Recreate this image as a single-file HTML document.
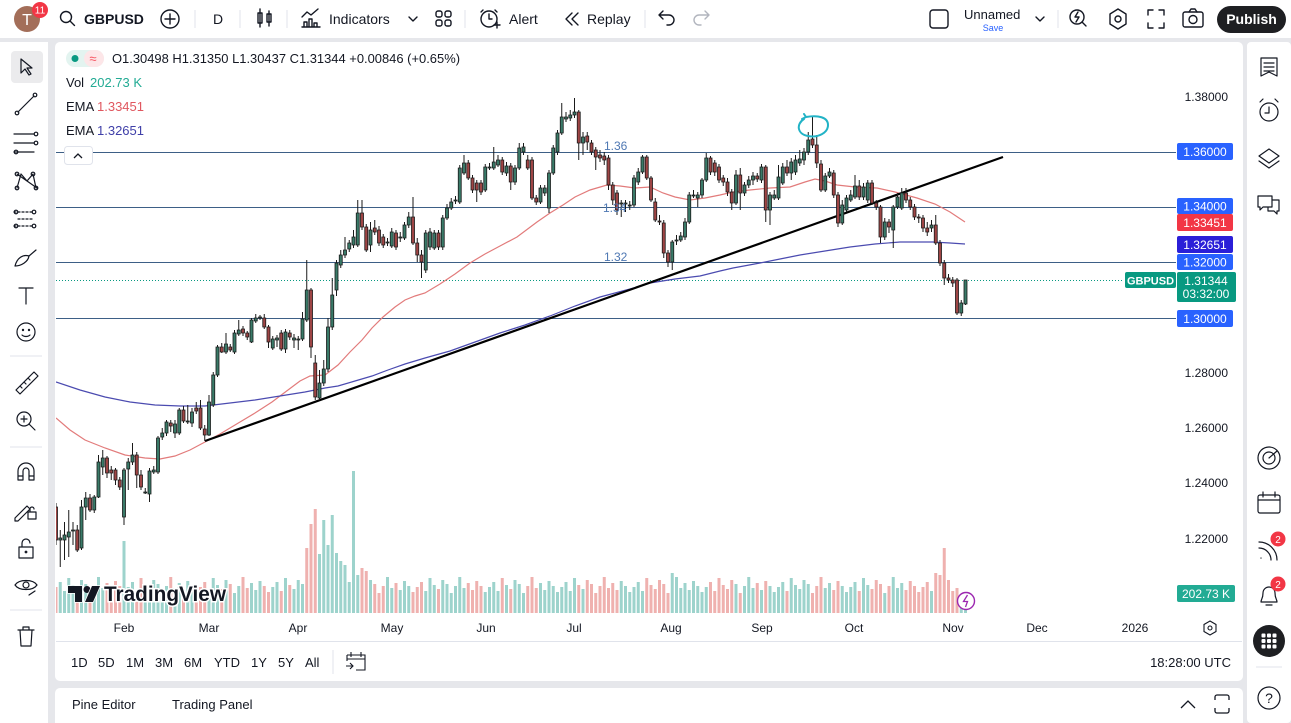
<!DOCTYPE html>
<html><head><meta charset="utf-8"><style>
html,body{margin:0;padding:0;width:1291px;height:723px;overflow:hidden;background:#e6e7eb}
svg{display:block}
</style></head><body>
<svg xmlns="http://www.w3.org/2000/svg" width="1291" height="723" viewBox="0 0 1291 723" font-family="'Liberation Sans', Arial, sans-serif">
<defs><clipPath id="cp"><rect x="56" y="42" width="1120" height="572"/></clipPath></defs>
<rect width="1291" height="723" fill="#e6e7eb"/>
<rect x="0" y="0" width="1291" height="38" fill="#fff"/>
<rect x="0" y="42" width="48" height="681" fill="#fff"/>
<rect x="55" y="42" width="1188" height="639" rx="5" fill="#fff"/>
<rect x="55" y="688" width="1188" height="45" rx="5" fill="#fff"/>
<rect x="1247" y="42" width="44" height="681" rx="4" fill="#fff"/>

<!-- TOP BAR -->
<g fill="none" stroke="#131722" stroke-width="1.4" stroke-linecap="round" stroke-linejoin="round">
<circle cx="66" cy="17" r="5.5"/><path d="M70 21l4.5 4.5"/>
<circle cx="170" cy="19" r="9"/><path d="M170 14v10M165 19h10"/>
<path d="M260 9v18M258 13h4v10h-4zM269 11v15M267 14h4v8h-4z"/>
<path d="M302 27h18M304 27v-5h3v5M309 27v-8h3v8M314 27v-4h3v4M302 17l5-5 4 3 7-6"/>
<path d="M409 17l4 4 4-4"/>
<rect x="436" y="11" width="6" height="6" rx="2"/><rect x="445" y="11" width="6" height="6" rx="2"/><rect x="436" y="20" width="6" height="6" rx="2"/><rect x="445" y="20" width="6" height="6" rx="2"/>
<circle cx="489" cy="19" r="8"/><path d="M489 14v5h3M483 10l-2 2M495 10l2 2M494 25h6M497 22v6"/>
<path d="M572 13l-6 6 6 6M578 13l-6 6 6 6"/>
<path d="M659 15h10a5 5 0 0 1 0 10h-2M663 11l-4 4 4 4"/>
<path d="M709 15h-10a5 5 0 0 0 0 10h2M705 11l4 4-4 4" stroke="#b2b5be"/>
<rect x="930" y="10" width="18" height="18" rx="3"/>
<path d="M1036 17l4 4 4-4"/>
<circle cx="1077" cy="17" r="7"/><path d="M1082 22l4 4M1078 12l-3 5h4l-3 5"/>
<path d="M1118 9l8 5v10l-8 5-8-5V14z"/><circle cx="1118" cy="19" r="3"/>
<path d="M1148 15v-5h5M1159 10h5v5M1164 23v5h-5M1153 28h-5v-5"/>
<rect x="1183" y="12" width="20" height="15" rx="2"/><circle cx="1193" cy="19.5" r="4"/><path d="M1189 12l2-3h4l2 3"/>
</g>
<g stroke="#e0e3eb" stroke-width="1"><path d="M195 10v18M240 10v18M287 10v18M465 10v18M645 10v18M1058 10v18"/></g>
<circle cx="27" cy="19" r="13" fill="#a36e59"/>
<text x="27" y="25" fill="#fff" font-size="16" text-anchor="middle">T</text>
<circle cx="40" cy="10" r="8" fill="#f23645"/>
<text x="40" y="13.5" fill="#fff" font-size="10" text-anchor="middle">11</text>
<text x="84" y="24" fill="#131722" font-size="14" font-weight="bold">GBPUSD</text>
<text x="218" y="24" fill="#131722" font-size="14" text-anchor="middle">D</text>
<text x="329" y="24" fill="#131722" font-size="14">Indicators</text>
<text x="509" y="24" fill="#131722" font-size="14">Alert</text>
<text x="587" y="24" fill="#131722" font-size="14">Replay</text>
<text x="964" y="19" fill="#131722" font-size="13">Unnamed</text>
<text x="993" y="31" fill="#2962ff" font-size="9" text-anchor="middle">Save</text>
<rect x="1217" y="6" width="69" height="27" rx="13.5" fill="#1e1f22"/>
<text x="1251.5" y="24" fill="#fff" font-size="14" font-weight="bold" text-anchor="middle">Publish</text>

<!-- LEFT TOOLBAR -->
<rect x="11" y="51" width="32" height="32" rx="4" fill="#ebebed"/>
<g fill="none" stroke="#131722" stroke-width="1.2" stroke-linecap="round" stroke-linejoin="round">
<path d="M21 59l0 14 4-4 4 6 2-1-4-6h5z"/>
<path d="M18 112l16-16"/><circle cx="17" cy="113" r="1.8"/><circle cx="35" cy="95" r="1.8"/>
<path d="M14 134h20M14 143h20M14 152h20"/><circle cx="36" cy="134" r="1.8"/><circle cx="36" cy="143" r="1.8"/><circle cx="16" cy="152" r="1.8"/>
<path d="M17 188l4-14 6 7 6-7 3 14M17 174l20 14"/><circle cx="17" cy="174" r="1.8"/><circle cx="33" cy="174" r="1.8"/><circle cx="17" cy="188" r="1.8"/><circle cx="36" cy="188" r="1.8"/>
<path d="M14 212h20M14 226h20M18 219h14" stroke-dasharray="2 2"/><circle cx="16" cy="212" r="1.8"/><circle cx="34" cy="212" r="1.8"/><circle cx="16" cy="226" r="1.8"/><circle cx="34" cy="226" r="1.8"/>
<path d="M15 266c2-8 8-12 14-10-1 6-8 10-14 10zM29 256l7-6"/>
<path d="M19 288h14M26 288v16"/>
<circle cx="26" cy="332" r="9"/><circle cx="23" cy="330" r=".6"/><circle cx="29" cy="330" r=".6"/><path d="M22 335c2 2 6 2 8 0"/>
<path d="M16 390l18-18 4 4-18 18zM20 386l2 2M24 382l2 2M28 378l2 2"/>
<circle cx="24" cy="419" r="7"/><path d="M29 424l6 6M24 416v6M21 419h6"/>
<path d="M18 480v-9a8 8 0 0 1 16 0v9h-5v-9a3 3 0 0 0-6 0v9zM18 476h5M29 476h5"/>
<path d="M15 518l12-12 3 3-12 12h-3zM28 512h8v7h-8zM30 512v-3a2 2 0 0 1 4 0"/>
<path d="M19 547h14v11H19zM22 547v-4a4 4 0 0 1 8 0"/><circle cx="26" cy="552" r=".8"/>
<path d="M15 585c4-6 18-6 22 0-4 6-18 6-22 0z"/><circle cx="26" cy="585" r="3"/><path d="M29 595l6-4"/>
<path d="M18 630h16M23 630v-3h6v3M20 630l1 16h10l1-16"/>
</g>
<g stroke="#e0e3eb"><path d="M10 356h32M10 447h32M10 610h32"/></g>

<!-- RIGHT TOOLBAR -->
<g fill="none" stroke="#131722" stroke-width="1.2" stroke-linecap="round" stroke-linejoin="round">
<path d="M1261 58h16v18l-8-4-8 4zM1264 63h10M1264 67h10M1264 71h10"/>
<circle cx="1269" cy="112" r="9"/><path d="M1269 107v6h-4M1260 102l3-3M1278 102l-3-3"/>
<path d="M1269 149l10 7-10 7-10-7zM1259 161l10 7 10-7"/>
<path d="M1258 196h14v11h-9l-3 3v-3h-2zM1272 200h7v11h-2v3l-3-3h-6v-4"/>
<circle cx="1269" cy="458" r="11"/><circle cx="1269" cy="458" r="6"/><path d="M1269 458l8-7"/>
<rect x="1258" y="495" width="22" height="18" rx="2"/><path d="M1258 500h22M1263 492v5M1275 492v5"/>
<path d="M1259 548a12 12 0 0 1 12 12M1259 542a18 18 0 0 1 18 18M1261 558v.1"/>
<path d="M1261 602c0-3 2-3 2-9a6 6 0 0 1 12 0c0 6 2 6 2 9zM1266 605h6"/>
<circle cx="1269" cy="698" r="11"/>
</g>
<text x="1269" y="703" fill="#131722" font-size="14" text-anchor="middle">?</text>
<circle cx="1278" cy="539" r="7.5" fill="#f23645"/><text x="1278" y="543" fill="#fff" font-size="10" text-anchor="middle">2</text>
<circle cx="1278" cy="584" r="7.5" fill="#f23645"/><text x="1278" y="588" fill="#fff" font-size="10" text-anchor="middle">2</text>
<circle cx="1269" cy="641" r="16" fill="#1e1f22"/>
<g fill="#fff"><rect x="1261.5" y="633.5" width="4" height="4" rx="1"/><rect x="1267" y="633.5" width="4" height="4" rx="1"/><rect x="1272.5" y="633.5" width="4" height="4" rx="1"/><rect x="1261.5" y="639" width="4" height="4" rx="1"/><rect x="1267" y="639" width="4" height="4" rx="1"/><rect x="1272.5" y="639" width="4" height="4" rx="1"/><rect x="1261.5" y="644.5" width="4" height="4" rx="1"/><rect x="1267" y="644.5" width="4" height="4" rx="1"/><rect x="1272.5" y="644.5" width="4" height="4" rx="1"/></g>
<path d="M1256 667h26" stroke="#e0e3eb"/>

<!-- CHART -->
<g clip-path="url(#cp)">
<g stroke="#3d5f86" stroke-width="1"><path d="M56 152.5H1177M56 207.5H1177M56 262.5H1177M56 318.5H1177"/></g>
<path d="M56 280.5H1124" stroke="#089981" stroke-width="1" stroke-dasharray="1 2"/>
<path fill="none" stroke="#9dd3cc" stroke-width="3" d="M60.25 613v-31M64.5 613v-22M68.75 613v-35M73 613v-28M81.5 613v-33M85.75 613v-29M94.25 613v-27M98.5 613v-36M102.75 613v-25M124 613v-72M128.25 613v-26M132.5 613v-31M145.25 613v-28M149.5 613v-24M153.75 613v-33M158 613v-29M162.25 613v-20M166.5 613v-27M175 613v-25M179.25 613v-30M187.75 613v-32M192 613v-27M209 613v-22M213.25 613v-35M217.5 613v-28M226 613v-33M234.5 613v-20M238.75 613v-27M251.5 613v-30M255.75 613v-23M260 613v-32M272.75 613v-26M277 613v-31M285.5 613v-35M294 613v-24M298.25 613v-33M302.5 613v-29M319.5 613v-59M323.75 613v-93M328 613v-68M332.25 613v-98M336.5 613v-60M340.75 613v-52M345 613v-48M349.25 613v-31M353.5 613v-142M357.75 613v-38M370.5 613v-33M387.5 613v-36M391.75 613v-25M400.25 613v-23M404.5 613v-32M408.75 613v-27M425.75 613v-22M430 613v-35M434.25 613v-28M442.75 613v-33M447 613v-29M451.25 613v-20M455.5 613v-27M459.75 613v-36M464 613v-25M485.25 613v-21M489.5 613v-26M493.75 613v-31M498 613v-22M506.5 613v-28M515 613v-33M519.25 613v-29M523.5 613v-20M540.5 613v-30M544.75 613v-23M549 613v-32M553.25 613v-27M557.5 613v-21M561.75 613v-26M566 613v-31M570.25 613v-22M574.5 613v-35M583 613v-24M621.25 613v-32M625.5 613v-27M629.75 613v-21M634 613v-26M638.25 613v-31M642.5 613v-22M672.25 613v-40M676.5 613v-36M680.75 613v-25M685 613v-30M689.25 613v-23M693.5 613v-32M697.75 613v-27M702 613v-21M706.25 613v-26M736 613v-29M744.5 613v-27M748.75 613v-36M753 613v-25M761.5 613v-23M770 613v-27M774.25 613v-21M778.5 613v-26M782.75 613v-31M791.25 613v-35M795.5 613v-28M799.75 613v-24M804 613v-33M808.25 613v-29M825.25 613v-25M829.5 613v-30M842.25 613v-27M846.5 613v-21M850.75 613v-26M855 613v-31M863.5 613v-35M867.75 613v-28M884.75 613v-20M893.25 613v-36M897.5 613v-25M901.75 613v-30M931.5 613v-22M961.25 613v-18M965.5 613v-15"/>
<path fill="none" stroke="#efb1af" stroke-width="3" d="M56 613v-26M77.25 613v-24M90 613v-20M107 613v-30M111.25 613v-23M115.5 613v-32M119.75 613v-27M136.75 613v-22M141 613v-35M170.75 613v-36M183.5 613v-23M196.25 613v-21M200.5 613v-26M204.75 613v-31M221.75 613v-24M230.25 613v-29M243 613v-36M247.25 613v-25M264.25 613v-27M268.5 613v-21M281.25 613v-22M289.75 613v-28M306.75 613v-65M311 613v-89M315.25 613v-104M362 613v-45M366.25 613v-42M374.75 613v-29M379 613v-20M383.25 613v-27M396 613v-30M413 613v-21M417.25 613v-26M421.5 613v-31M438.5 613v-24M468.25 613v-30M472.5 613v-23M476.75 613v-32M481 613v-27M502.25 613v-35M510.75 613v-24M527.75 613v-27M532 613v-36M536.25 613v-25M578.75 613v-28M587.25 613v-33M591.5 613v-29M595.75 613v-20M600 613v-27M604.25 613v-36M608.5 613v-25M612.75 613v-30M617 613v-23M646.75 613v-35M651 613v-28M655.25 613v-24M659.5 613v-33M663.75 613v-29M668 613v-20M710.5 613v-31M714.75 613v-22M719 613v-35M723.25 613v-28M727.5 613v-24M731.75 613v-33M740.25 613v-20M757.25 613v-30M765.75 613v-32M787 613v-22M812.5 613v-20M816.75 613v-27M821 613v-36M833.75 613v-23M838 613v-32M859.25 613v-22M872 613v-24M876.25 613v-33M880.5 613v-29M889 613v-27M906 613v-23M910.25 613v-32M914.5 613v-27M918.75 613v-21M923 613v-26M927.25 613v-31M935.75 613v-40M940 613v-38M944.25 613v-65M948.5 613v-33M952.75 613v-22M957 613v-25"/>
<polyline fill="none" stroke="#e27b7b" stroke-width="1.2" points="56,418 70,430 85,440 105,448 125,455 145,458 160,459 175,456 190,450 205,442 220,434 240,422 255,413 272,402 288,390 300,381 310,376 325,375 338,365 350,352 362,340 372,328 383,317 395,307 405,300 415,296 425,293 440,284 455,274 470,263 485,254 500,246 517,237 537,222 550,213 563,205 575,197 590,190 607,185 620,186 635,188 650,187 663,193 675,197 690,200 705,198 720,195 733,192 750,190 770,188 790,187 805,182 815,179 825,181 837,185 855,187 877,188 895,192 917,198 935,204 950,212 965,222"/>
<polyline fill="none" stroke="#4b4bb0" stroke-width="1.2" points="56,382 80,390 105,397 130,402 155,405 180,406 205,406 230,403 255,400 280,396 305,392 325,388 338,386 355,381 372,376 388,370 405,364 425,358 450,351 475,342 500,333 525,325 550,316 575,306 600,297 630,289 650,283 675,279 700,276 720,271 733,268 760,263 780,259 800,255 825,251 850,247 875,244 900,242 933,242 950,243 965,244"/>
<path d="M205 441L1003 157" stroke="#000" stroke-width="2.2"/>
<path fill="none" stroke="#1a1a1a" stroke-width="1" d="M56 503V545M60.25 530V567M64.5 522V560M68.75 510V557M73 522V545M77.25 525V552M81.5 500V550M85.75 492V520M90 494V512M94.25 495V513M98.5 455V498M102.75 450V475M107 456V478M111.25 466V480M115.5 468V485M119.75 477V490M124 468V525M128.25 458V490M132.5 443V465M136.75 452V488M141 470V490M145.25 488V494M149.5 468V502M153.75 466V474M158 436V474M162.25 428V440M166.5 420V436M170.75 420V432M175 420V438M179.25 408V435M183.5 406V423M187.75 405V424M192 408V427M196.25 402V414M200.5 400V430M204.75 425V441M209 395V436M213.25 372V407M217.5 345V377M221.75 343V353M226 333V354M230.25 344V352M234.5 330V354M238.75 320V336M243 326V336M247.25 331V340M251.5 318V343M255.75 314V323M260 315V320M264.25 314V329M268.5 325V348M272.75 336V350M277 335V347M281.25 330V351M285.5 329V353M289.75 330V340M294 334V348M298.25 336V350M302.5 312V341M306.75 260V322M311 288V358M315.25 355V400M319.5 370V400M323.75 360V386M328 318V372M332.25 278V330M336.5 260V296M340.75 250V268M345 237V258M349.25 240V252M353.5 230V248M357.75 200V247M362 200V230M366.25 224V252M370.5 222V252M374.75 220V235M379 226V246M383.25 234V248M387.5 238V246M391.75 228V248M396 230V250M400.25 232V242M404.5 222V240M408.75 212V228M413 197V245M417.25 238V262M421.5 250V278M425.75 230V273M430 228V250M434.25 230V250M438.5 230V250M442.75 215V250M447 204V220M451.25 198V210M455.5 196V204M459.75 165V204M464 155V175M468.25 160V180M472.5 175V193M476.75 180V202M481 180V195M485.25 164V192M489.5 163V170M493.75 147V170M498 155V167M502.25 157V175M506.5 162V176M510.75 163V190M515 165V185M519.25 143V170M523.5 143V155M527.75 155V170M532 157V200M536.25 195V205M540.5 185V204M544.75 185V196M549 170V213M553.25 145V175M557.5 130V155M561.75 103V135M566 112V122M570.25 110V121M574.5 98V118M578.75 110V160M583 132V155M587.25 132V150M591.5 140V155M595.75 147V170M600 150V162M604.25 152V165M608.5 155V190M612.75 182V205M617 190V215M621.25 200V217M625.5 200V212M629.75 201V210M634 175V207M638.25 168V185M642.5 155V174M646.75 155V180M651 176V202M655.25 198V222M659.5 215V225M663.75 220V258M668 250V267M672.25 240V270M676.5 235V245M680.75 232V242M685 218V240M689.25 192V224M693.5 190V198M697.75 192V207M702 178V198M706.25 153V182M710.5 156V175M714.75 160V176M719 164V183M723.25 175V186M727.5 178V196M731.75 189V210M736 170V205M740.25 168V210M744.5 182V196M748.75 176V188M753 172V185M757.25 173V182M761.5 164V183M765.75 165V222M770 192V225M774.25 190V200M778.5 165V200M782.75 163V185M787 160V176M791.25 158V180M795.5 155V175M799.75 150V166M804 148V165M808.25 132V155M812.5 116V148M816.75 135V168M821 160V192M825.25 173V192M829.5 168V178M833.75 170V198M838 192V227M842.25 200V225M846.5 195V212M850.75 190V202M855 175V199M859.25 180V200M863.5 183V200M867.75 180V203M872 180V205M876.25 200V210M880.5 205V243M884.75 218V240M889 219V233M893.25 205V248M897.5 193V209M901.75 188V210M906 188V203M910.25 197V210M914.5 204V220M918.75 214V223M923 215V232M927.25 222V236M931.5 220V232M935.75 215V245M940 240V266M944.25 260V285M948.5 274V283M952.75 277V287M957 278V315M961.25 300V316M965.5 280V305"/>
<path fill="#3a7a68" stroke="#1a1a1a" stroke-width="0.8" d="M58.75 538h3v2h-3zM63 535h3v5h-3zM67.25 532h3v5h-3zM71.5 530h3v1h-3zM80 507h3v41h-3zM84.25 498h3v9h-3zM92.75 497h3v13h-3zM97 462h3v35h-3zM101.25 458h3v9h-3zM122.5 470h3v47h-3zM126.75 462h3v7h-3zM131 455h3v7h-3zM143.75 492h3v1h-3zM148 471h3v23h-3zM152.25 470h3v2h-3zM156.5 438h3v34h-3zM160.75 433h3v4h-3zM165 422h3v11h-3zM173.5 424h3v9h-3zM177.75 410h3v23h-3zM186.25 421h3v1h-3zM190.5 412h3v11h-3zM207.5 402h3v33h-3zM211.75 375h3v30h-3zM216 347h3v28h-3zM224.5 344h3v8h-3zM233 333h3v19h-3zM237.25 330h3v4h-3zM250 320h3v22h-3zM254.25 318h3v3h-3zM258.5 317h3v1h-3zM271.25 339h3v9h-3zM275.5 338h3v2h-3zM284 332h3v17h-3zM292.5 338h3v2h-3zM296.75 339h3v1h-3zM301 319h3v20h-3zM305.25 290h3v30h-3zM318 383h3v15h-3zM322.25 369h3v14h-3zM326.5 327h3v42h-3zM330.75 295h3v32h-3zM335 263h3v27h-3zM339.25 255h3v10h-3zM343.5 250h3v5h-3zM347.75 243h3v6h-3zM352 237h3v8h-3zM356.25 213h3v32h-3zM369 230h3v15h-3zM386 242h3v1h-3zM390.25 232h3v14h-3zM398.75 237h3v1h-3zM403 225h3v13h-3zM407.25 217h3v8h-3zM424.25 233h3v37h-3zM428.5 232h3v15h-3zM432.75 233h3v15h-3zM441.25 218h3v29h-3zM445.5 208h3v10h-3zM449.75 202h3v6h-3zM454 200h3v1h-3zM458.25 168h3v34h-3zM462.5 163h3v10h-3zM483.75 167h3v23h-3zM488 167h3v1h-3zM492.25 162h3v6h-3zM496.5 160h3v5h-3zM505 166h3v7h-3zM513.5 168h3v14h-3zM517.75 148h3v20h-3zM522 147h3v5h-3zM539 188h3v14h-3zM543.25 188h3v5h-3zM547.5 173h3v35h-3zM551.75 148h3v25h-3zM556 133h3v19h-3zM560.25 117h3v16h-3zM564.5 117h3v2h-3zM568.75 115h3v3h-3zM573 112h3v3h-3zM581.5 137h3v6h-3zM619.75 203h3v1h-3zM624 203h3v1h-3zM628.25 205h3v1h-3zM632.5 178h3v27h-3zM636.75 172h3v10h-3zM641 157h3v15h-3zM670.75 242h3v20h-3zM675 240h3v1h-3zM679.25 236h3v4h-3zM683.5 222h3v15h-3zM687.75 195h3v27h-3zM692 195h3v1h-3zM696.25 195h3v3h-3zM700.5 180h3v15h-3zM704.75 158h3v22h-3zM734.5 175h3v28h-3zM743 185h3v8h-3zM747.25 180h3v5h-3zM751.5 176h3v4h-3zM760 167h3v13h-3zM768.5 195h3v15h-3zM772.75 195h3v3h-3zM777 177h3v21h-3zM781.25 167h3v16h-3zM789.75 162h3v11h-3zM794 160h3v12h-3zM798.25 159h3v4h-3zM802.5 152h3v8h-3zM806.75 140h3v12h-3zM823.75 176h3v14h-3zM828 172h3v4h-3zM840.75 205h3v18h-3zM845 198h3v12h-3zM849.25 195h3v5h-3zM853.5 186h3v11h-3zM862 187h3v10h-3zM866.25 183h3v17h-3zM883.25 222h3v15h-3zM891.75 207h3v23h-3zM896 197h3v10h-3zM900.25 193h3v15h-3zM930 225h3v3h-3zM959.75 303h3v10h-3zM964 280h3v24h-3z"/>
<path fill="#9e4545" stroke="#1a1a1a" stroke-width="0.8" d="M54.5 507h3v33h-3zM75.75 530h3v20h-3zM88.5 498h3v12h-3zM105.5 458h3v15h-3zM109.75 470h3v3h-3zM114 470h3v10h-3zM118.25 480h3v7h-3zM135.25 455h3v20h-3zM139.5 475h3v12h-3zM169.25 423h3v3h-3zM182 410h3v11h-3zM194.75 408h3v3h-3zM199 408h3v20h-3zM203.25 429h3v6h-3zM220.25 347h3v5h-3zM228.75 347h3v3h-3zM241.5 329h3v4h-3zM245.75 333h3v4h-3zM262.75 318h3v9h-3zM267 327h3v15h-3zM279.75 333h3v16h-3zM288.25 333h3v4h-3zM309.5 290h3v57h-3zM313.75 363h3v34h-3zM360.5 213h3v14h-3zM364.75 227h3v23h-3zM373.25 228h3v4h-3zM377.5 230h3v13h-3zM381.75 237h3v8h-3zM394.5 233h3v14h-3zM411.5 217h3v26h-3zM415.75 243h3v12h-3zM420 255h3v7h-3zM437 233h3v14h-3zM466.75 163h3v15h-3zM471 178h3v12h-3zM475.25 183h3v7h-3zM479.5 183h3v9h-3zM500.75 160h3v12h-3zM509.25 166h3v16h-3zM526.25 160h3v8h-3zM530.5 160h3v38h-3zM534.75 198h3v4h-3zM577.25 112h3v31h-3zM585.75 136h3v6h-3zM590 143h3v9h-3zM594.25 150h3v7h-3zM598.5 155h3v3h-3zM602.75 156h3v4h-3zM607 158h3v27h-3zM611.25 185h3v15h-3zM615.5 193h3v17h-3zM645.25 157h3v21h-3zM649.5 178h3v22h-3zM653.75 202h3v18h-3zM658 221h3v1h-3zM662.25 223h3v30h-3zM666.5 253h3v9h-3zM709 158h3v14h-3zM713.25 163h3v9h-3zM717.5 167h3v13h-3zM721.75 178h3v4h-3zM726 182h3v10h-3zM730.25 192h3v11h-3zM738.75 175h3v18h-3zM755.75 176h3v3h-3zM764.25 167h3v43h-3zM785.5 167h3v6h-3zM811 139h3v6h-3zM815.25 145h3v18h-3zM819.5 164h3v26h-3zM832.25 173h3v22h-3zM836.5 195h3v28h-3zM857.75 186h3v11h-3zM870.5 183h3v20h-3zM874.75 203h3v4h-3zM879 207h3v30h-3zM887.5 222h3v5h-3zM904.5 193h3v7h-3zM908.75 200h3v7h-3zM913 207h3v10h-3zM917.25 217h3v1h-3zM921.5 218h3v10h-3zM925.75 228h3v4h-3zM934.25 225h3v18h-3zM938.5 243h3v20h-3zM942.75 263h3v15h-3zM947 278h3v2h-3zM951.25 280h3v3h-3zM955.5 280h3v33h-3z"/>
</g>

<!-- line labels -->
<text x="604" y="150" fill="#4f78b3" font-size="12">1.36</text>
<text x="603" y="212" fill="#4f78b3" font-size="12">1.34</text>
<text x="604" y="261" fill="#4f78b3" font-size="12">1.32</text>

<!-- annotation -->
<path d="M804 119C796 124 797 134 808 136C818 138 828 133 828 125C828 117 818 115 806 117M806 117l-2-3M806 117l-4 2" fill="none" stroke="#22b3c6" stroke-width="2" stroke-linecap="round"/>

<!-- TradingView logo -->
<g>
<path d="M68 586h14v16h-7v-9h-7z" fill="#131722" stroke="#fff" stroke-width="1.5" paint-order="stroke"/>
<circle cx="87" cy="589.5" r="3.5" fill="#131722"/>
<path d="M92 586h8l-7 16h-8z" fill="#131722" stroke="#fff" stroke-width="1.5" paint-order="stroke"/>
<text x="104" y="601" font-size="21" font-weight="bold" fill="#131722" stroke="#fff" stroke-width="3" paint-order="stroke" textLength="122" lengthAdjust="spacingAndGlyphs">TradingView</text>
</g>
<circle cx="966" cy="601" r="8.5" fill="#fff" stroke="#9c27b0" stroke-width="1.4"/>
<path d="M967.5 595l-4 6.5h4l-2 5.5" fill="none" stroke="#9c27b0" stroke-width="1.3"/>

<!-- legend -->
<rect x="66" y="50" width="38" height="17" rx="8.5" fill="#e3f4f0"/>
<rect x="84" y="50" width="20" height="17" rx="8.5" fill="#fde6e8"/>
<circle cx="75" cy="58.5" r="3.5" fill="#089981"/>
<text x="93" y="63" fill="#f7525f" font-size="13" text-anchor="middle">≈</text>
<text x="112" y="63" fill="#131722" font-size="13" textLength="348" lengthAdjust="spacingAndGlyphs">O1.30498 H1.31350 L1.30437 C1.31344 +0.00846 (+0.65%)</text>
<text x="66" y="87" fill="#131722" font-size="13">Vol</text>
<text x="90" y="87" fill="#22ab94" font-size="13">202.73 K</text>
<text x="66" y="111" fill="#131722" font-size="13">EMA</text>
<text x="97" y="111" fill="#e0575f" font-size="13">1.33451</text>
<text x="66" y="135" fill="#131722" font-size="13">EMA</text>
<text x="97" y="135" fill="#3f3fa8" font-size="13">1.32651</text>
<rect x="64.5" y="146.5" width="28" height="18" rx="3" fill="#fff" stroke="#e0e3eb"/>
<path d="M74 158l4-4 4 4" fill="none" stroke="#131722" stroke-width="1.3"/>

<!-- price axis -->
<g font-size="12" fill="#131722" text-anchor="end">
<text x="1228" y="101">1.38000</text>
<text x="1228" y="377">1.28000</text>
<text x="1228" y="432">1.26000</text>
<text x="1228" y="487">1.24000</text>
<text x="1228" y="543">1.22000</text>
</g>
<rect x="1177" y="143" width="56" height="17" rx="2" fill="#2962ff"/>
<rect x="1177" y="198" width="56" height="16" rx="2" fill="#2962ff"/>
<rect x="1177" y="214" width="56" height="17" rx="2" fill="#f23645"/>
<rect x="1177" y="236" width="56" height="17" rx="2" fill="#2b1fd8"/>
<rect x="1177" y="254" width="56" height="16" rx="2" fill="#2962ff"/>
<rect x="1177" y="272" width="59" height="30" rx="2" fill="#089981"/>
<rect x="1125" y="272" width="51" height="16" rx="2" fill="#089981"/>
<rect x="1177" y="310" width="56" height="17" rx="2" fill="#2962ff"/>
<rect x="1177" y="585" width="58" height="17" rx="2" fill="#22ab94"/>
<g font-size="12" fill="#fff" text-anchor="middle">
<text x="1205" y="156">1.36000</text>
<text x="1205" y="210.5">1.34000</text>
<text x="1205" y="227">1.33451</text>
<text x="1205" y="249">1.32651</text>
<text x="1205" y="266.5">1.32000</text>
<text x="1206" y="285">1.31344</text>
<text x="1206" y="298">03:32:00</text>
<text x="1205" y="323">1.30000</text>
<text x="1206" y="598">202.73 K</text>
<text x="1150.5" y="284.5" font-size="11" font-weight="bold">GBPUSD</text>
</g>

<!-- time axis -->
<g font-size="12" fill="#131722" text-anchor="middle">
<text x="124" y="632">Feb</text><text x="209" y="632">Mar</text><text x="298" y="632">Apr</text><text x="392" y="632">May</text><text x="486" y="632">Jun</text><text x="574" y="632">Jul</text><text x="671" y="632">Aug</text><text x="762" y="632">Sep</text><text x="854" y="632">Oct</text><text x="953" y="632">Nov</text><text x="1037" y="632">Dec</text><text x="1135" y="632">2026</text>
</g>
<path d="M1210 621l6 3.5v7l-6 3.5-6-3.5v-7z" fill="none" stroke="#131722" stroke-width="1.1"/><circle cx="1210" cy="628" r="2" fill="none" stroke="#131722" stroke-width="1.1"/>
<path d="M56 641.5H1242" stroke="#e0e3eb"/>

<!-- timeframe row -->
<g font-size="13" fill="#131722">
<text x="71" y="667">1D</text><text x="98" y="667">5D</text><text x="126" y="667">1M</text><text x="155" y="667">3M</text><text x="184" y="667">6M</text><text x="214" y="667">YTD</text><text x="251" y="667">1Y</text><text x="278" y="667">5Y</text><text x="305" y="667">All</text>
<text x="1231" y="667" text-anchor="end">18:28:00 UTC</text>
</g>
<path d="M333 650v24" stroke="#e0e3eb"/>
<path d="M347 655h18v15h-9M347 655v6M347 659h18M351 652v5M361 652v5M346 666h7M350 663l3 3-3 3" fill="none" stroke="#131722" stroke-width="1.1"/>

<!-- bottom panel -->
<text x="72" y="709" font-size="13" fill="#131722">Pine Editor</text>
<text x="172" y="709" font-size="13" fill="#131722">Trading Panel</text>
<path d="M1181 708l7-7 7 7" fill="none" stroke="#131722" stroke-width="1.3"/>
<path d="M1215 700v-3a2 2 0 0 1 2-2h10a2 2 0 0 1 2 2v3M1229 708v3a2 2 0 0 1-2 2h-10a2 2 0 0 1-2-2v-3" fill="none" stroke="#131722" stroke-width="1.3"/>
</svg>
</body></html>
